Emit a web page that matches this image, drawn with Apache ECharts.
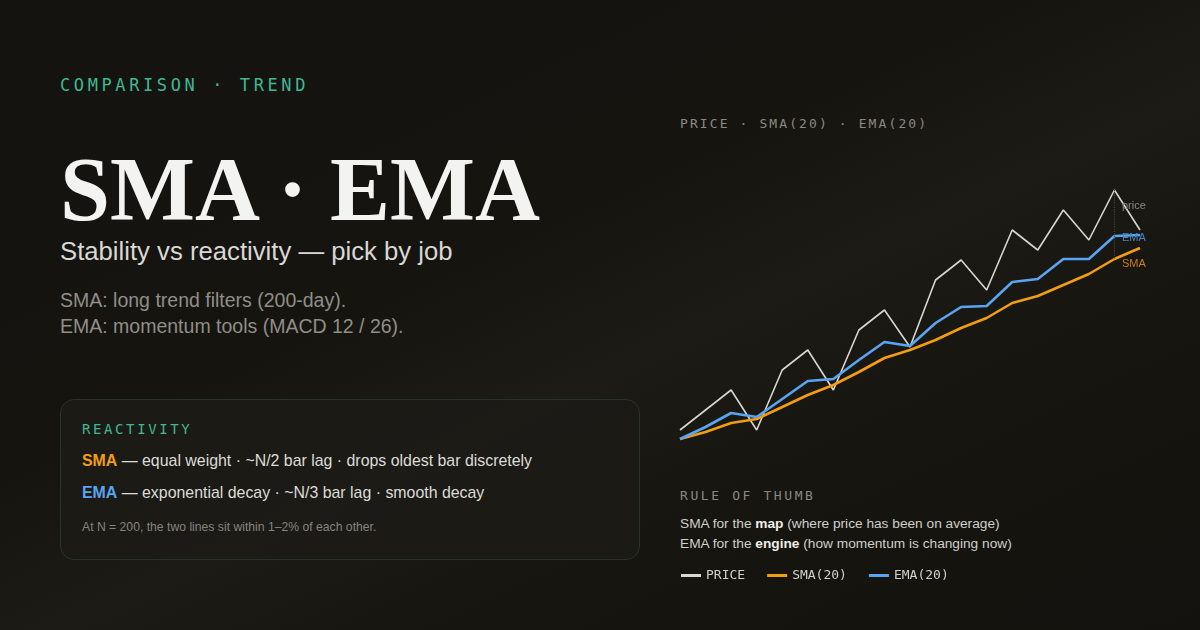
<!DOCTYPE html>
<html>
<head>
<meta charset="utf-8">
<script src="https://cdn.jsdelivr.net/npm/echarts@6/dist/echarts.min.js"></script>
<style>
  html, body { margin: 0; padding: 0; }
  body {
    width: 1200px; height: 630px; overflow: hidden; position: relative;
    background: linear-gradient(155deg, #141310 0%, #16140f 40%, #1d1b15 55%, #17150f 70%, #13120e 100%);
    font-family: "Liberation Sans", Arial, sans-serif;
  }
  .mono { font-family: "DejaVu Sans Mono", monospace; }
  #kicker { position: absolute; left: 60px; top: 75px; font-size: 17px; letter-spacing: 3.6px; color: #3fb896; }
  #title { position: absolute; left: 60px; top: 140px; font-family: "Liberation Serif", serif; font-weight: bold; font-size: 90px; color: #f3f3f1; line-height: 100px; }
  #sub { position: absolute; left: 60px; top: 237px; font-size: 25.7px; color: #d8d8d4; }
  #notes { position: absolute; left: 60px; top: 287px; font-size: 19.5px; line-height: 26px; color: #8f8e89; }
  #box { position: absolute; left: 60px; top: 399px; width: 580px; height: 161px; box-sizing: border-box;
    border: 1.5px solid #283329; border-radius: 14px; background: rgba(28,27,22,0.85); }
  #box .h { position: absolute; left: 21px; top: 21px; font-size: 14px; letter-spacing: 2.6px; color: #3fb896; }
  #box .r { position: absolute; left: 21px; font-size: 15.9px; color: #dcdcd8; }
  #box .foot { position: absolute; left: 21px; top: 120px; font-size: 12.2px; color: #85847f; }
  #charttitle { position: absolute; left: 680px; top: 116px; font-size: 13px; letter-spacing: 2.1px; color: #8a8984; }
  #rule { position: absolute; left: 680px; top: 488px; font-size: 13px; letter-spacing: 2.6px; color: #8a8984; }
  #rules { position: absolute; left: 680px; top: 514px; font-size: 13.7px; line-height: 20px; color: #cfcfcb; }
  #rules b { color: #eeeeea; }
  #chart { position: absolute; left: 0; top: 0; width: 1200px; height: 630px; }
</style>
</head>
<body>
<div id="kicker" class="mono">COMPARISON · TREND</div>
<div id="title">SMA · EMA</div>
<div id="sub">Stability vs reactivity — pick by job</div>
<div id="notes">SMA: long trend filters (200-day).<br>EMA: momentum tools (MACD 12 / 26).</div>
<div id="box">
  <div class="h mono">REACTIVITY</div>
  <div class="r" style="top:52px"><b style="color:#f29d12">SMA</b> — equal weight · ~N/2 bar lag · drops oldest bar discretely</div>
  <div class="r" style="top:84px"><b style="color:#5aa5f3">EMA</b> — exponential decay · ~N/3 bar lag · smooth decay</div>
  <div class="foot">At N = 200, the two lines sit within 1–2% of each other.</div>
</div>
<div id="charttitle" class="mono">PRICE · SMA(20) · EMA(20)</div>
<div id="rule" class="mono">RULE OF THUMB</div>
<div id="rules">SMA for the <b>map</b> (where price has been on average)<br>EMA for the <b>engine</b> (how momentum is changing now)</div>
<div id="chart"></div>
<script>
var bars = ['1','2','3','4','5','6','7','8','9','10','11','12','13','14','15','16','17','18','19'];
var price = [10, 30, 50, 10, 70, 90, 50, 110, 130, 93, 160, 180, 150, 210, 190, 230, 200, 250, 210];
var ema = [1, 13, 27, 23, 41, 59, 61, 80, 98, 94, 117, 133, 134, 158, 161, 181, 181, 204, 205];
var sma = [1, 8, 17, 21, 33, 45, 55, 68, 82, 90, 100, 112, 122, 137, 144, 155, 166, 181, 192];
var lagBar = 17;

var myChart = echarts.init(document.getElementById('chart'));
function endLab(text, color, dy) {
    return { show: true, formatter: text, color: color, fontSize: 11, offset: [-26, dy],
        fontFamily: 'Liberation Sans' };
}
var option = {
    animation: false,
    grid: { left: 680, right: 60, top: 160, bottom: 190 },
    xAxis: { type: 'category', data: bars, boundaryGap: false, show: false },
    yAxis: { type: 'value', min: 0, max: 280, show: false },
    legend: {
        left: 676, top: 564, itemWidth: 20, itemHeight: 3, itemGap: 22,
        icon: 'rect',
        textStyle: { color: '#d0d0cc', fontFamily: 'DejaVu Sans Mono', fontSize: 13 },
        data: ['PRICE', 'SMA(20)', 'EMA(20)']
    },
    series: [
        {
            name: 'PRICE', type: 'line', data: price, symbol: 'none',
            lineStyle: { color: '#d6d6d2', width: 1.6 }, itemStyle: { color: '#d6d6d2' },
            endLabel: endLab('price', '#8a8984', -24),
            markLine: {
                symbol: 'none', silent: true, label: { show: false },
                lineStyle: { color: '#3c4a3e', type: 'dotted', width: 1.2 },
                data: [[{ coord: [lagBar, price[lagBar]] }, { coord: [lagBar, sma[lagBar]] }]]
            }
        },
        {
            name: 'SMA(20)', type: 'line', data: sma, symbol: 'none',
            lineStyle: { color: '#f29d12', width: 2.6 }, itemStyle: { color: '#f29d12' },
            endLabel: endLab('SMA', '#c77f0f', 16)
        },
        {
            name: 'EMA(20)', type: 'line', data: ema, symbol: 'none', z: 3,
            lineStyle: { color: '#5aa5f3', width: 2.6 }, itemStyle: { color: '#5aa5f3' },
            endLabel: endLab('EMA', '#4a86c4', 3)
        }
    ]
};
myChart.setOption(option);
</script>
</body>
</html>
